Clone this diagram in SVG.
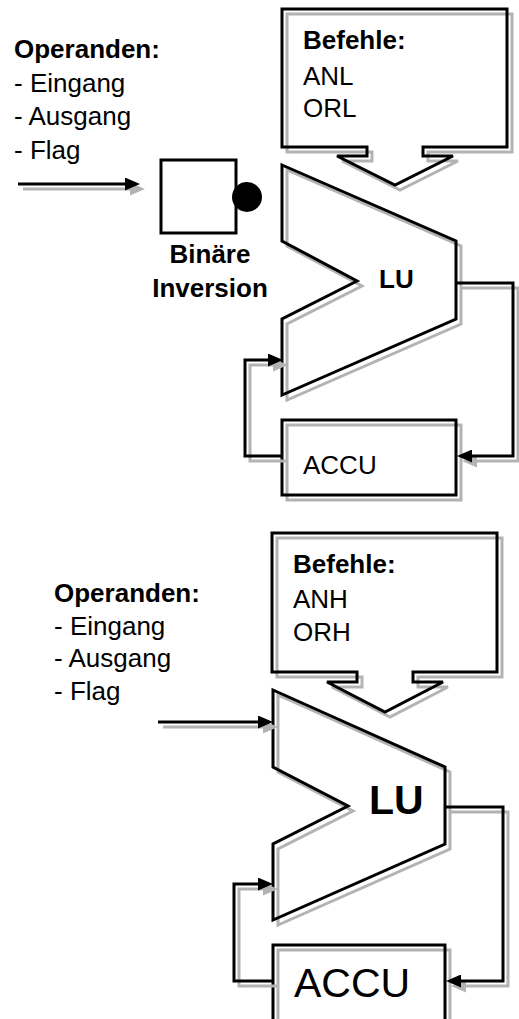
<svg xmlns="http://www.w3.org/2000/svg" xmlns:xlink="http://www.w3.org/1999/xlink" width="519" height="1019" viewBox="0 0 519 1019">
  <style>
    .ol { fill: none; stroke: #000; stroke-width: 3; stroke-linejoin: miter; }
    .sh { fill: none; stroke: #b3b3b3; stroke-width: 3; stroke-linejoin: miter; }
    .cl { fill: none; stroke: #000; stroke-width: 3; marker-end: url(#headBlack); }
    .cs { fill: none; stroke: #b3b3b3; stroke-width: 3; marker-end: url(#headGray); }
    .t { font-family: "Liberation Sans", Arial, Helvetica, sans-serif; font-size: 26px; fill: #000; }
    .b { font-weight: bold; }
    .big { font-size: 41px; }
  </style>
  <defs>
    <marker id="headBlack" viewBox="0 0 15 13" refX="7" refY="6.5" markerWidth="15" markerHeight="13" markerUnits="userSpaceOnUse" orient="auto">
      <path d="M0,0 L15,6.5 L0,13 Z" fill="#000"/>
    </marker>
    <marker id="headGray" viewBox="0 0 15 13" refX="7" refY="6.5" markerWidth="15" markerHeight="13" markerUnits="userSpaceOnUse" orient="auto">
      <path d="M0,0 L15,6.5 L0,13 Z" fill="#b3b3b3"/>
    </marker>
    <!-- outlines shared by the drop shadow and the black stroke -->
    <path id="cmd1" d="M282,9 H507 V147 H423 V156 H453 L395,185 L337,156 H367 V147 H282 Z"/>
    <path id="lu1" d="M282,165 L456,241 V319 L282,395 V319 L357,281 L282,241 Z"/>
    <rect id="acc1" x="282" y="420" width="174" height="75"/>
    <path id="cmd2" d="M272,533 H497 V672 H413 V682 H443 L385,712 L327,682 H357 V672 H272 Z"/>
    <path id="lu2" d="M273,690 L445,767 V844 L273,920 V844 L348,806 L273,767 Z"/>
    <rect id="acc2" x="273" y="945" width="172" height="110"/>
  </defs>

  <rect width="519" height="1019" fill="#fff"/>

  <!-- upper diagram -->
  <g id="operands-top">
    <text class="t b" x="14" y="58">Operanden:</text>
    <text class="t" x="14" y="92">- Eingang</text>
    <text class="t" x="14" y="125">- Ausgang</text>
    <text class="t" x="14" y="159">- Flag</text>
  </g>

  <g id="inverter">
    <rect x="161" y="160" width="75" height="73" fill="#fff" stroke="#000" stroke-width="3"/>
    <circle cx="247" cy="197" r="15" fill="#000"/>
    <text class="t b" x="210" y="263" text-anchor="middle">Binäre</text>
    <text class="t b" x="210" y="297" text-anchor="middle">Inversion</text>
  </g>

  <g id="commands-top">
    <use xlink:href="#cmd1" class="sh" transform="translate(5,5)"/>
    <use xlink:href="#cmd1" class="ol"/>
    <text class="t b" x="303" y="49">Befehle:</text>
    <text class="t" x="303" y="85">ANL</text>
    <text class="t" x="303" y="117">ORL</text>
  </g>

  <g id="lu-top">
    <use xlink:href="#lu1" class="sh" transform="translate(5,5)"/>
    <use xlink:href="#lu1" class="ol"/>
    <text class="t b" x="379" y="288">LU</text>
  </g>

  <g id="accu-top">
    <use xlink:href="#acc1" class="sh" transform="translate(5,5)"/>
    <use xlink:href="#acc1" class="ol"/>
    <text class="t" x="303" y="474">ACCU</text>
  </g>

  <!-- lower diagram -->
  <g id="operands-bottom">
    <text class="t b" x="54" y="602">Operanden:</text>
    <text class="t" x="54" y="635">- Eingang</text>
    <text class="t" x="54" y="667">- Ausgang</text>
    <text class="t" x="54" y="700">- Flag</text>
  </g>

  <g id="commands-bottom">
    <use xlink:href="#cmd2" class="sh" transform="translate(5,5)"/>
    <use xlink:href="#cmd2" class="ol"/>
    <text class="t b" x="293" y="573">Befehle:</text>
    <text class="t" x="293" y="608">ANH</text>
    <text class="t" x="293" y="641">ORH</text>
  </g>

  <g id="lu-bottom">
    <use xlink:href="#lu2" class="sh" transform="translate(5,5)"/>
    <use xlink:href="#lu2" class="ol"/>
    <text class="t b big" x="369" y="814">LU</text>
  </g>

  <g id="accu-bottom">
    <use xlink:href="#acc2" class="sh" transform="translate(5,5)"/>
    <use xlink:href="#acc2" class="ol"/>
    <text class="t big" x="294" y="997">ACCU</text>
  </g>

  <!-- connectors: grey shadow first, black line on top -->
  <g id="connectors">
    <g transform="translate(5,5)">
      <path class="cs" d="M18,184 H132"/>
      <path class="cs" d="M456,283 H513 V456 H465"/>
      <path class="cs" d="M282,456 H245 V360 H275"/>
      <path class="cs" d="M158,722 H265"/>
      <path class="cs" d="M445,807 H503 V981 H454"/>
      <path class="cs" d="M273,981 H234 V884 H265"/>
    </g>
    <path class="cl" d="M18,184 H132"/>
    <path class="cl" d="M456,283 H513 V456 H465"/>
    <path class="cl" d="M282,456 H245 V360 H275"/>
    <path class="cl" d="M158,722 H265"/>
    <path class="cl" d="M445,807 H503 V981 H454"/>
    <path class="cl" d="M273,981 H234 V884 H265"/>
  </g>
</svg>
